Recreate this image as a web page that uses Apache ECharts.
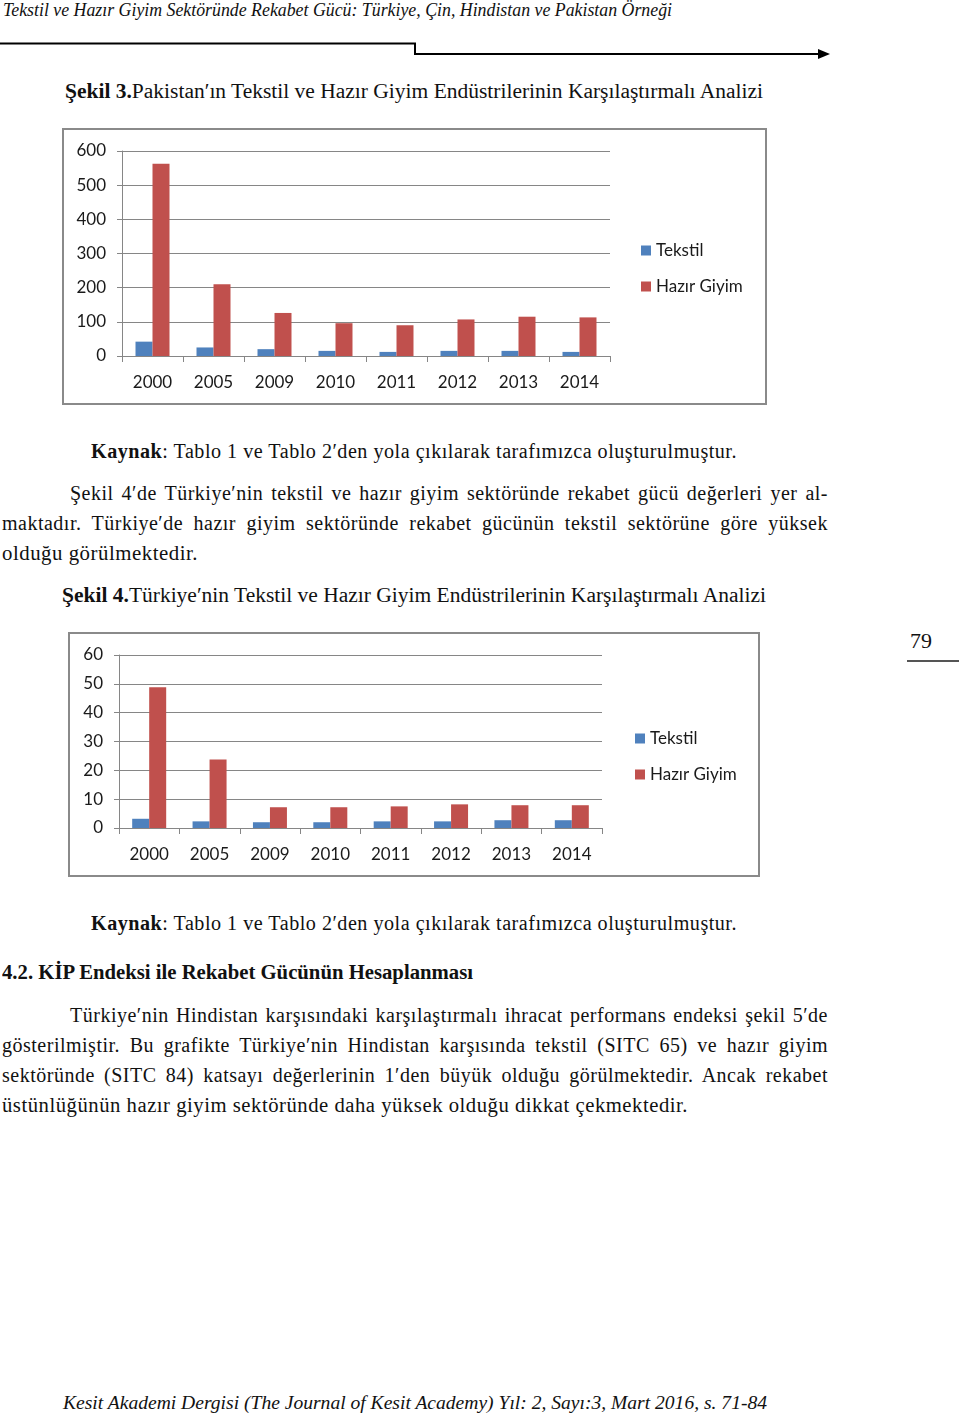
<!DOCTYPE html>
<html>
<head>
<meta charset="utf-8">
<script src="https://cdn.jsdelivr.net/npm/echarts@6/dist/echarts.min.js"></script>
<style>
  html, body { margin:0; padding:0; background:#fff; }
  body { width:960px; height:1416px; position:relative; overflow:hidden; font-family:"Liberation Serif", serif; color:#111; }
  .ln { position:absolute; white-space:nowrap; line-height:1; transform-origin:0 50%; }
  .ln span.t { display:inline-block; }
  .body { letter-spacing:0.5px; }
  .it { font-style:italic; }
  .frame { position:absolute; border:2px solid #8a8a8a; box-sizing:border-box; background:#fff; }
</style>
</head>
<body>
<script>
// ---------- data ----------
const categories = ["2000","2005","2009","2010","2011","2012","2013","2014"];
const seriesNames = ["Tekstil","Hazır Giyim"];
// Şekil 3 – Pakistan
const pakTekstil = [42, 25, 20, 15, 12, 15, 15, 12];
const pakHazirGiyim = [563, 210, 126, 96, 90, 107, 115, 113];
const pakTicks = { min:0, max:600, interval:100 };
// Şekil 4 – Türkiye
const trTekstil = [3.2, 2.3, 2.0, 2.0, 2.3, 2.3, 2.7, 2.7];
const trHazirGiyim = [48.8, 23.8, 7.2, 7.2, 7.5, 8.2, 7.9, 7.9];
const trTicks = { min:0, max:60, interval:10 };
</script>

<svg style="position:absolute;left:0;top:0" width="960" height="80">
  <polyline points="0,43.5 415,43.5 415,54 822,54" fill="none" stroke="#000" stroke-width="2"/>
  <polygon points="818,49 830,54 818,59" fill="#000"/>
</svg>
<div style="position:absolute;left:907px;top:660px;width:52px;height:2px;background:#555"></div>

<div id="c1frame" class="frame" style="left:62px;top:128px;width:705px;height:277px;">
  <div id="c1" style="width:701px;height:273px;"></div>
</div>
<div id="c2frame" class="frame" style="left:68px;top:632px;width:692px;height:245px;">
  <div id="c2" style="width:688px;height:241px;"></div>
</div>

<div id="texts"></div>

<script>
const lines = [
  {x:3, y:11, w:669, fs:18, cls:'it', html:'Tekstil ve Hazır Giyim Sektöründe Rekabet Gücü: Türkiye, Çin, Hindistan ve Pakistan Örneği'},
  {x:65, y:92, w:698, fs:20, html:'<b>Şekil 3.</b>Pakistan′ın Tekstil ve Hazır Giyim Endüstrilerinin Karşılaştırmalı Analizi'},
  {x:91, y:452, w:646, fs:20, cls:'body', html:'<b>Kaynak</b>: Tablo 1 ve Tablo 2′den yola çıkılarak tarafımızca oluşturulmuştur.'},
  {x:70, y:494, w:758, fs:20, cls:'body', just:true, html:'Şekil 4′de Türkiye′nin tekstil ve hazır giyim sektöründe rekabet gücü değerleri yer al-'},
  {x:2, y:524, w:826, fs:20, cls:'body', just:true, html:'maktadır. Türkiye′de hazır giyim sektöründe rekabet gücünün tekstil sektörüne göre yüksek'},
  {x:2, y:554, w:196, fs:20, cls:'body', html:'olduğu görülmektedir.'},
  {x:62, y:596, w:704, fs:20, html:'<b>Şekil 4.</b>Türkiye′nin Tekstil ve Hazır Giyim Endüstrilerinin Karşılaştırmalı Analizi'},
  {x:910, y:642, w:22, fs:20, html:'79'},
  {x:91, y:924, w:646, fs:20, cls:'body', html:'<b>Kaynak</b>: Tablo 1 ve Tablo 2′den yola çıkılarak tarafımızca oluşturulmuştur.'},
  {x:2, y:973, w:471, fs:20, html:'<b>4.2. KİP Endeksi ile Rekabet Gücünün Hesaplanması</b>'},
  {x:70, y:1016, w:758, fs:20, cls:'body', just:true, html:'Türkiye′nin Hindistan karşısındaki karşılaştırmalı ihracat performans endeksi şekil 5′de'},
  {x:2, y:1046, w:826, fs:20, cls:'body', just:true, html:'gösterilmiştir. Bu grafikte Türkiye′nin Hindistan karşısında tekstil (SITC 65) ve hazır giyim'},
  {x:2, y:1076, w:826, fs:20, cls:'body', just:true, html:'sektöründe (SITC 84) katsayı değerlerinin 1′den büyük olduğu görülmektedir. Ancak rekabet'},
  {x:2, y:1106, w:686, fs:20, cls:'body', html:'üstünlüğünün hazır giyim sektöründe daha yüksek olduğu dikkat çekmektedir.'},
  {x:63, y:1403, w:704, fs:19, cls:'it', html:'Kesit Akademi Dergisi (The Journal of Kesit Academy) Yıl: 2, Sayı:3, Mart 2016, s. 71-84'}
];
const holder = document.getElementById('texts');
lines.forEach(l => {
  const d = document.createElement('div');
  d.className = 'ln' + (l.cls ? ' ' + l.cls : '');
  d.style.left = l.x + 'px';
  d.style.fontSize = l.fs + 'px';
  d.style.top = (l.y - l.fs * 0.55) + 'px';
  const s = document.createElement('span');
  s.className = 't';
  s.innerHTML = l.html;
  d.appendChild(s);
  holder.appendChild(d);
  let nat = s.getBoundingClientRect().width;
  if (l.just && nat < l.w) {
    const spaces = (s.textContent.match(/ /g) || []).length;
    if (spaces) {
      s.style.wordSpacing = ((l.w - nat) / spaces) + 'px';
      nat = s.getBoundingClientRect().width;
    }
  }
  d.style.transform = 'scaleX(' + (l.w / nat) + ')';
});

const colors = ['#4F81BD', '#C0504D'];
const gray = '#868686';
const labelFont = { fontFamily:'Lato', fontSize:17, color:'#1a1a1a' };

function makeOption(tek, hazir, ticks, grid, legendPos) {
  return {
    animation: false,
    color: colors,
    grid: grid,
    legend: {
      orient: 'vertical', left: legendPos.left, top: legendPos.top,
      icon: 'rect', itemWidth: 10, itemHeight: 10, itemGap: 19,
      textStyle: Object.assign({}, labelFont),
      data: seriesNames
    },
    xAxis: {
      type: 'category', data: categories,
      axisLine: { lineStyle: { color: gray, width: 1 } },
      axisTick: { show: true, length: 6, lineStyle: { color: gray } },
      axisLabel: Object.assign({ margin: 18 }, labelFont)
    },
    yAxis: {
      type: 'value', min: ticks.min, max: ticks.max, interval: ticks.interval,
      axisLine: { show: true, lineStyle: { color: gray, width: 1 } },
      axisTick: { show: true, length: 5, lineStyle: { color: gray } },
      splitLine: { lineStyle: { color: gray, width: 1 } },
      axisLabel: Object.assign({ margin: 16 }, labelFont)
    },
    series: [
      { name: seriesNames[0], type: 'bar', data: tek, barWidth: 17, barGap: '0%', itemStyle: { color: colors[0] } },
      { name: seriesNames[1], type: 'bar', data: hazir, barWidth: 17, barGap: '0%', itemStyle: { color: colors[1] } }
    ]
  };
}

const c1 = echarts.init(document.getElementById('c1'), null, { renderer: 'canvas' });
c1.setOption(makeOption(pakTekstil, pakHazirGiyim, pakTicks,
  { left: 58, top: 21, width: 488, height: 205 },
  { left: 572, top: 107 }));

const c2 = echarts.init(document.getElementById('c2'), null, { renderer: 'canvas' });
c2.setOption(makeOption(trTekstil, trHazirGiyim, trTicks,
  { left: 49, top: 21, width: 483, height: 173 },
  { left: 560, top: 91 }));
</script>
</body>
</html>
